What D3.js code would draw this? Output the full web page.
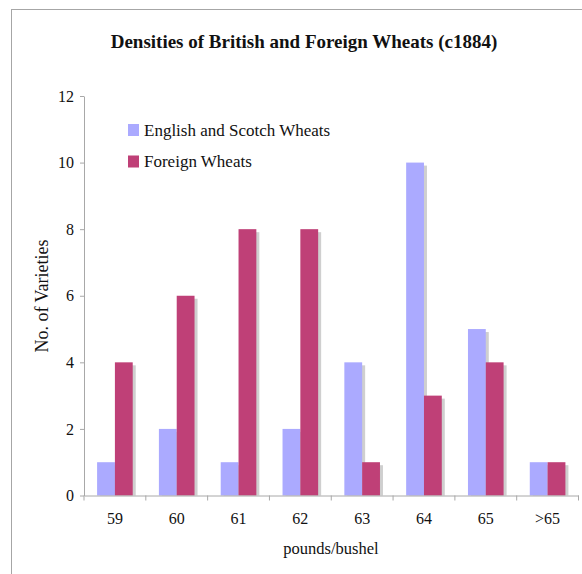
<!DOCTYPE html>
<html>
<head>
<meta charset="utf-8">
<script src="https://cdn.jsdelivr.net/npm/d3@7"></script>
<style>
  html, body { margin: 0; padding: 0; background: #fff; }
  svg { display: block; }
  text { font-family: "Liberation Serif", "DejaVu Serif", serif; fill: #111; }
</style>
</head>
<body>
<svg id="chart" width="582" height="574"></svg>
<script>
const categories = ["59", "60", "61", "62", "63", "64", "65", ">65"];
const seriesNames = ["English and Scotch Wheats", "Foreign Wheats"];
const englishScotch = [1, 2, 1, 2, 4, 10, 5, 1];
const foreign = [4, 6, 8, 8, 1, 3, 4, 1];
const yTicks = [0, 2, 4, 6, 8, 10, 12];
const colors = ["#abaaff", "#bf4077"];
const titleText = "Densities of British and Foreign Wheats (c1884)";
const xTitle = "pounds/bushel";
const yTitle = "No. of Varieties";

const serif = "'Liberation Serif', 'DejaVu Serif', serif";
const svg = d3.select("#chart");

// outer frame (extends beyond the visible area on right/bottom)
svg.append("rect")
  .attr("x", 11.5).attr("y", 9.5)
  .attr("width", 700).attr("height", 700)
  .attr("fill", "none").attr("stroke", "#a6a6a6").attr("stroke-width", 1);

const plotLeft = 84, plotRight = 578.5, plotTop = 96, plotBottom = 495.5;

const x0 = d3.scaleBand().domain(categories).range([plotLeft, plotRight]).paddingInner(0).paddingOuter(0);
const x1 = d3.scaleBand().domain(seriesNames).range([0, x0.bandwidth()]).paddingInner(0).paddingOuter(0.735);
const y = d3.scaleLinear().domain([0, 12]).range([plotBottom, plotTop]);

const data = categories.map((c, i) => ({ cat: c, vals: [englishScotch[i], foreign[i]] }));

const groups = svg.append("g").selectAll("g").data(data).join("g")
  .attr("transform", d => `translate(${x0(d.cat)},0)`);

// shadows
groups.selectAll("rect.shadow").data(d => d.vals.map((v, k) => ({ v, k })))
  .join("rect").attr("class", "shadow")
  .attr("x", d => x1(seriesNames[d.k]) + 3)
  .attr("y", d => y(d.v) + 3)
  .attr("width", x1.bandwidth())
  .attr("height", d => Math.max(0, plotBottom - y(d.v) - 3))
  .attr("fill", "#cfcfcf");

groups.selectAll("rect.bar").data(d => d.vals.map((v, k) => ({ v, k })))
  .join("rect").attr("class", "bar")
  .attr("x", d => x1(seriesNames[d.k]))
  .attr("y", d => y(d.v))
  .attr("width", x1.bandwidth())
  .attr("height", d => plotBottom - y(d.v))
  .attr("fill", d => colors[d.k]);

// y axis
const yAxis = svg.append("g").attr("transform", `translate(${plotLeft},0)`)
  .call(d3.axisLeft(y).tickValues(yTicks).tickSize(4).tickPadding(6).tickSizeOuter(0));
yAxis.attr("font-family", serif).attr("font-size", 16);
yAxis.select(".domain").attr("stroke", "#a8a8a8");
yAxis.selectAll(".tick line").attr("stroke", "#a8a8a8");
yAxis.selectAll(".tick text").attr("fill", "#111");

// x axis
const xAxis = svg.append("g").attr("transform", `translate(0,${plotBottom})`)
  .call(d3.axisBottom(x0).tickSize(0).tickPadding(17).tickSizeOuter(0));
xAxis.attr("font-family", serif).attr("font-size", 16);
xAxis.select(".domain").attr("stroke", "#a8a8a8");
xAxis.selectAll(".tick text").attr("fill", "#111");
const bounds = categories.map(c => x0(c)).concat([plotRight]);
xAxis.selectAll("line.bound").data(bounds).join("line").attr("class", "bound")
  .attr("x1", d => d).attr("x2", d => d).attr("y1", 0).attr("y2", 5)
  .attr("stroke", "#a8a8a8");

// title
svg.append("text").attr("x", 304).attr("y", 48).attr("text-anchor", "middle")
  .attr("font-size", 19).attr("font-weight", "bold").text(titleText);

// axis titles
svg.append("text").attr("x", 331).attr("y", 554).attr("text-anchor", "middle")
  .attr("font-size", 16.5).text(xTitle);
svg.append("text").attr("transform", `translate(48,${296}) rotate(-90)`).attr("text-anchor", "middle")
  .attr("font-size", 18).text(yTitle);

// legend
const legend = svg.append("g").selectAll("g").data(seriesNames).join("g")
  .attr("transform", (d, i) => `translate(128,${124 + i * 31.5})`);
legend.append("rect").attr("width", 11).attr("height", 12).attr("fill", (d, i) => colors[i]);
legend.append("text").attr("x", 16).attr("y", 11.5).attr("font-size", 17).text(d => d);
</script>
</body>
</html>
